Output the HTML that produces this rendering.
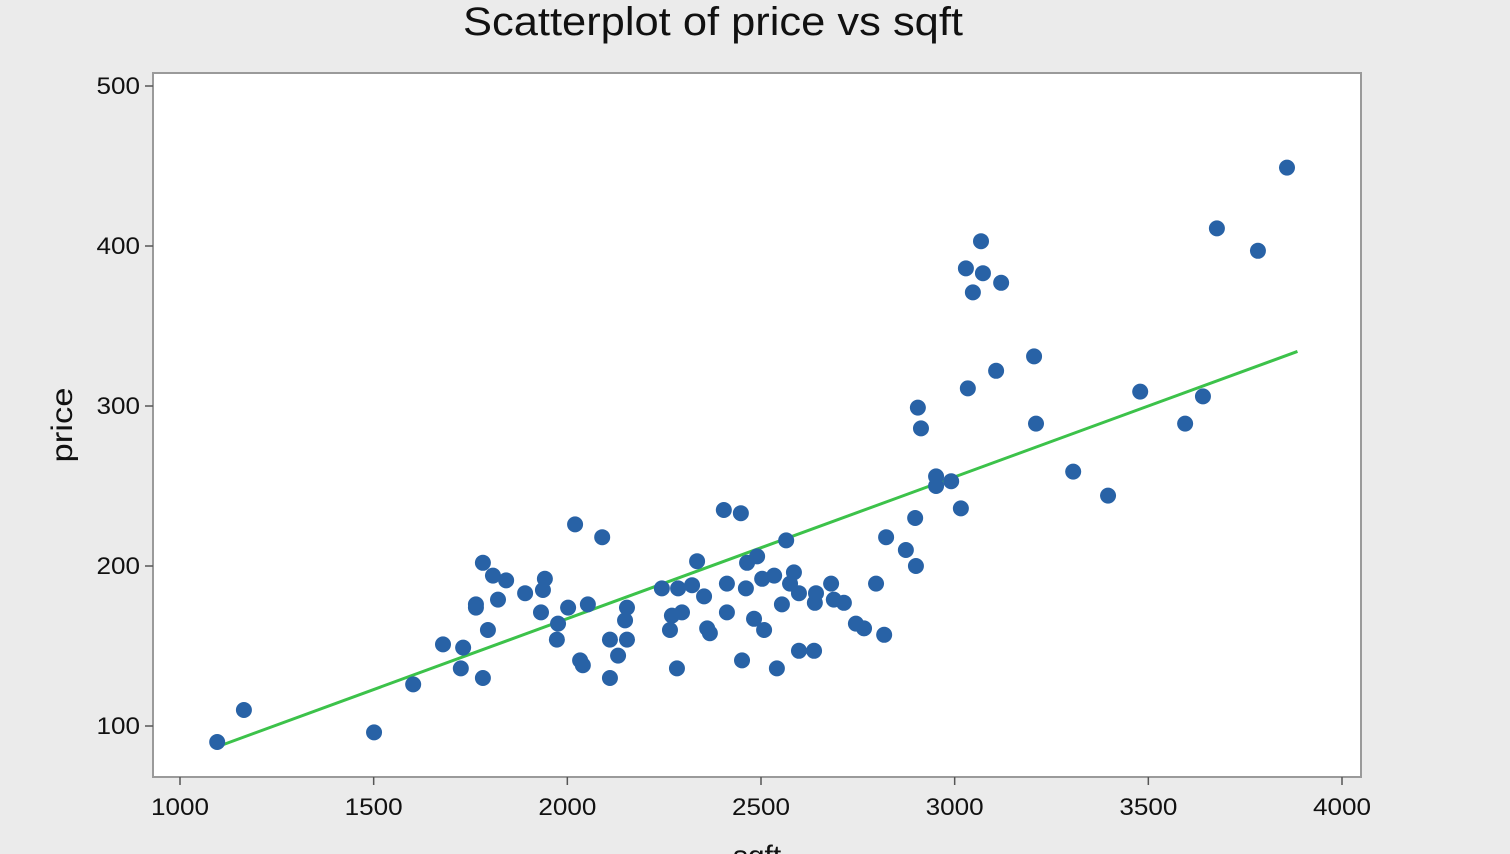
<!DOCTYPE html>
<html><head><meta charset="utf-8"><style>
html,body{margin:0;padding:0;background:#ebebeb;}
svg{display:block;font-family:"Liberation Sans",sans-serif;}
</style></head><body>
<svg id="chart" width="1510" height="854" viewBox="0 0 1510 854" xmlns="http://www.w3.org/2000/svg">
<rect x="0" y="0" width="1510" height="854" fill="#ebebeb"/>
<text x="713" y="35" text-anchor="middle" font-size="40" fill="#111" textLength="500" lengthAdjust="spacingAndGlyphs">Scatterplot of price vs sqft</text>
<rect x="153" y="73" width="1208" height="704" fill="#fff" stroke="#9a9a9a" stroke-width="2"/>
<g id="axes"></g>
<g id="fit"></g>
<g id="points"></g>
<text x="0" y="0" transform="translate(72,425) rotate(-90)" text-anchor="middle" font-size="30" fill="#111" textLength="75" lengthAdjust="spacingAndGlyphs">price</text>
<text x="757" y="866" text-anchor="middle" font-size="30" fill="#111">sqft</text>
</svg>
<script>
const sqft = [1096,1165,1501,1602,1679,1725,1731,1764,1764,1782,1782,1795,1808,1821,1842,1891,1932,1937,1942,1973,1976,2002,2020,2033,2040,2053,2090,2110,2110,2131,2149,2154,2154,2244,2265,2270,2283,2286,2296,2322,2335,2353,2361,2368,2404,2412,2412,2448,2451,2461,2464,2482,2490,2503,2508,2534,2541,2554,2565,2575,2585,2598,2598,2637,2639,2642,2681,2688,2714,2745,2766,2797,2818,2823,2874,2898,2900,2905,2913,2952,2952,2991,3016,3029,3034,3047,3068,3073,3107,3120,3205,3210,3306,3396,3479,3595,3641,3677,3783,3858];
const price = [90,110,96,126,151,136,149,176,174,130,202,160,194,179,191,183,171,185,192,154,164,174,226,141,138,176,218,130,154,144,166,174,154,186,160,169,136,186,171,188,203,181,161,158,235,189,171,233,141,186,202,167,206,192,160,194,136,176,216,189,196,183,147,147,177,183,189,179,177,164,161,189,157,218,210,230,200,299,286,256,250,253,236,386,311,371,403,383,322,377,331,289,259,244,309,289,306,411,397,449];
const fitCoef = [-10.1, 0.0886];
const fitRange = [1100, 3885];
const xTicks = [1000,1500,2000,2500,3000,3500,4000];
const yTicks = [100,200,300,400,500];

const NS="http://www.w3.org/2000/svg";
function xs(v){return 180+(v-1000)*(1162/3000);}
function ys(v){return 726-(v-100)*1.6;}
function mk(tag,attrs,parent){const e=document.createElementNS(NS,tag);for(const k in attrs)e.setAttribute(k,attrs[k]);parent.appendChild(e);return e;}
const axes=document.getElementById('axes');
xTicks.forEach(t=>{
  const l=mk('line',{x1:xs(t),x2:xs(t),y1:777,y2:785,stroke:'#555','stroke-width':1.5},axes);
  
  
  const tx=mk('text',{x:xs(t),y:815,'text-anchor':'middle','font-size':24,fill:'#111',textLength:String(t).length*14.5,lengthAdjust:'spacingAndGlyphs'},axes);
  tx.textContent=t;
  
  
});
yTicks.forEach(t=>{
  const l=mk('line',{x1:145,x2:153,y1:ys(t),y2:ys(t),stroke:'#555','stroke-width':1.5},axes);
  
  
  const tx=mk('text',{x:140,y:ys(t)+8,'text-anchor':'end','font-size':24,fill:'#111',textLength:String(t).length*14.5,lengthAdjust:'spacingAndGlyphs'},axes);
  tx.textContent=t;
  
  
});
const pts=document.getElementById('points');
sqft.forEach((s,i)=>{
  const c=mk('circle',{cx:xs(s),cy:ys(price[i]),r:8,fill:'#2862a6'},pts);
  
  
});
const fit=document.getElementById('fit');
const fl=mk('line',{x1:xs(fitRange[0]),y1:ys(fitCoef[0]+fitCoef[1]*fitRange[0]),x2:xs(fitRange[1]),y2:ys(fitCoef[0]+fitCoef[1]*fitRange[1]),stroke:'#3cc24a','stroke-width':3},fit);


</script>
</body></html>
